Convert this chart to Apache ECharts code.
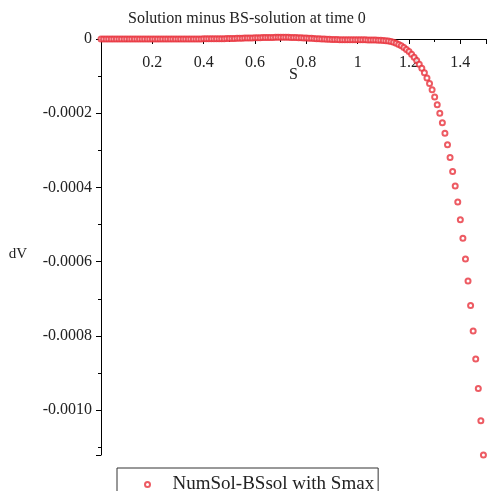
<!DOCTYPE html>
<html>
<head>
<meta charset="utf-8">
<script src="https://cdn.jsdelivr.net/npm/echarts@6/dist/echarts.min.js"></script>
<style>
html,body{margin:0;padding:0;background:#fff;}
#chart{width:487px;height:491px;}
</style>
</head>
<body>
<div id="chart"></div>
<script>
const titleText = 'Solution minus BS-solution at time 0';
const seriesName = 'NumSol-BSsol with Smax';
const xName = 'S';
const yName = 'dV';

const S = [
  0.00,0.01,0.02,0.03,0.04,0.05,0.06,0.07,0.08,0.09,
  0.10,0.11,0.12,0.13,0.14,0.15,0.16,0.17,0.18,0.19,
  0.20,0.21,0.22,0.23,0.24,0.25,0.26,0.27,0.28,0.29,
  0.30,0.31,0.32,0.33,0.34,0.35,0.36,0.37,0.38,0.39,
  0.40,0.41,0.42,0.43,0.44,0.45,0.46,0.47,0.48,0.49,
  0.50,0.51,0.52,0.53,0.54,0.55,0.56,0.57,0.58,0.59,
  0.60,0.61,0.62,0.63,0.64,0.65,0.66,0.67,0.68,0.69,
  0.70,0.71,0.72,0.73,0.74,0.75,0.76,0.77,0.78,0.79,
  0.80,0.81,0.82,0.83,0.84,0.85,0.86,0.87,0.88,0.89,
  0.90,0.91,0.92,0.93,0.94,0.95,0.96,0.97,0.98,0.99,
  1.00,1.01,1.02,1.03,1.04,1.05,1.06,1.07,1.08,1.09,
  1.10,1.11,1.12,1.13,1.14,1.15,1.16,1.17,1.18,1.19,
  1.20,1.21,1.22,1.23,1.24,1.25,1.26,1.27,1.28,1.29,
  1.30,1.31,1.32,1.33,1.34,1.35,1.36,1.37,1.38,1.39,
  1.40,1.41,1.42,1.43,1.44,1.45,1.46,1.47,1.48,1.49
];

const dV = [
  0,0,0,0,0,0,0,0,0,0,
  1e-7,1e-7,1e-7,1e-7,1e-7,1e-7,1e-7,1e-7,1e-7,1e-7,
  2e-7,2e-7,2e-7,2e-7,2e-7,2e-7,2e-7,2e-7,2e-7,2e-7,
  3e-7,3e-7,3e-7,3e-7,3e-7,3e-7,3e-7,3e-7,3e-7,3e-7,
  4e-7,4e-7,5e-7,5e-7,6e-7,7e-7,8e-7,9e-7,1.0e-6,1.1e-6,
  1.3e-6,1.4e-6,1.6e-6,1.8e-6,2.0e-6,2.2e-6,2.4e-6,2.6e-6,2.8e-6,3.0e-6,
  3.2e-6,3.4e-6,3.6e-6,3.8e-6,3.9e-6,4.1e-6,4.2e-6,4.3e-6,4.4e-6,4.5e-6,
  4.5e-6,4.5e-6,4.5e-6,4.4e-6,4.3e-6,4.1e-6,3.9e-6,3.6e-6,3.3e-6,3.0e-6,
  2.6e-6,2.2e-6,1.8e-6,1.4e-6,1.0e-6,0.6e-6,0.2e-6,-0.2e-6,-0.5e-6,-0.8e-6,
  -1.1e-6,-1.3e-6,-1.5e-6,-1.7e-6,-1.8e-6,-1.9e-6,-2.0e-6,-2.1e-6,-2.1e-6,-2.2e-6,
  -2.2e-6,-2.2e-6,-2.3e-6,-2.3e-6,-2.4e-6,-2.5e-6,-2.7e-6,-2.9e-6,-3.2e-6,-3.6e-6,
  -3.8e-6,-4.5e-6,-5.5e-6,-7.0e-6,-9.0e-6,-11.5e-6,-14.5e-6,-18.5e-6,-23e-6,-28e-6,
  -34e-6,-41e-6,-49e-6,-58e-6,-68e-6,-79e-6,-91e-6,-105e-6,-120e-6,-137e-6,
  -156e-6,-177e-6,-200e-6,-226e-6,-254e-6,-285e-6,-319e-6,-357e-6,-396e-6,-439e-6,
  -487e-6,-537e-6,-593e-6,-652e-6,-718e-6,-787e-6,-862e-6,-942e-6,-1029e-6,-1121e-6
];

const xTickLabels = ['0.2','0.4','0.6','0.8','1','1.2','1.4'];
const yTickLabels = ['0','-0.0002','-0.0004','-0.0006','-0.0008','-0.0010'];

const FONT = '"Liberation Serif", "DejaVu Serif", serif';
const RED = '#e8323c';

const pts = S.map((s, i) => [s, dV[i]]);

const chart = echarts.init(document.getElementById('chart'), null, {renderer: 'canvas'});
chart.setOption({
  backgroundColor: '#fff',
  animation: false,
  title: {
    text: titleText,
    left: 128,
    top: 11,
    padding: 0,
    textStyle: {fontFamily: FONT, fontSize: 16, fontWeight: 'normal', color: '#222'}
  },
  grid: {left: 101, right: 1, top: 39, bottom: 36, containLabel: false, outerBoundsMode: 'none'},
  legend: {
    left: 117,
    top: 468,
    padding: [7, 4, 20, 27],
    itemWidth: 40,
    itemHeight: 5,
    borderColor: '#333',
    borderWidth: 1,
    textStyle: {fontFamily: FONT, fontSize: 19, color: '#222'},
    data: [seriesName]
  },
  xAxis: {
    type: 'value',
    position: 'top',
    min: 0,
    max: 1.5,
    interval: 0.2,
    name: xName,
    nameLocation: 'middle',
    nameGap: -44,
    nameMoveOverlap: false,
    nameTextStyle: {fontFamily: FONT, fontSize: 16, color: '#222'},
    axisLine: {onZero: false, lineStyle: {color: '#000', width: 1}},
    axisTick: {show: true, inside: true, length: 5, lineStyle: {color: '#000'}},
    minorTick: {show: true, splitNumber: 2, length: 3, lineStyle: {color: '#000'}},
    splitLine: {show: false},
    axisLabel: {
      inside: true,
      fontFamily: FONT, fontSize: 16, color: '#222', margin: 16,
      showMinLabel: false, showMaxLabel: false,
      formatter: function (v) {
        const idx = Math.round(v / 0.2) - 1;
        return (idx >= 0 && idx < xTickLabels.length) ? xTickLabels[idx] : '';
      }
    }
  },
  yAxis: {
    type: 'value',
    min: -0.001121,
    max: 0,
    name: yName,
    nameLocation: 'middle',
    nameRotate: 0,
    nameGap: 74,
    nameTextStyle: {fontFamily: FONT, fontSize: 15, color: '#222', verticalAlign: 'top'},
    axisLine: {show: true, onZero: false, lineStyle: {color: '#000', width: 1}},
    axisTick: {show: true, length: 5, lineStyle: {color: '#000'}},
    minorTick: {show: true, splitNumber: 2, length: 3, lineStyle: {color: '#000'}},
    splitLine: {show: false},
    axisLabel: {
      fontFamily: FONT, fontSize: 16, color: '#222', margin: 9,
      formatter: function (v) {
        const idx = Math.round(-v / 0.0002);
        if (Math.abs(-v / 0.0002 - idx) > 1e-6) return '';
        return (idx >= 0 && idx < yTickLabels.length) ? yTickLabels[idx] : '';
      }
    }
  },
  series: [{
    name: seriesName,
    type: 'scatter',
    symbol: 'emptyCircle',
    symbolSize: 5,
    clip: false,
    itemStyle: {color: RED, borderColor: RED, borderWidth: 1},
    data: pts
  }]
});
</script>
</body>
</html>
